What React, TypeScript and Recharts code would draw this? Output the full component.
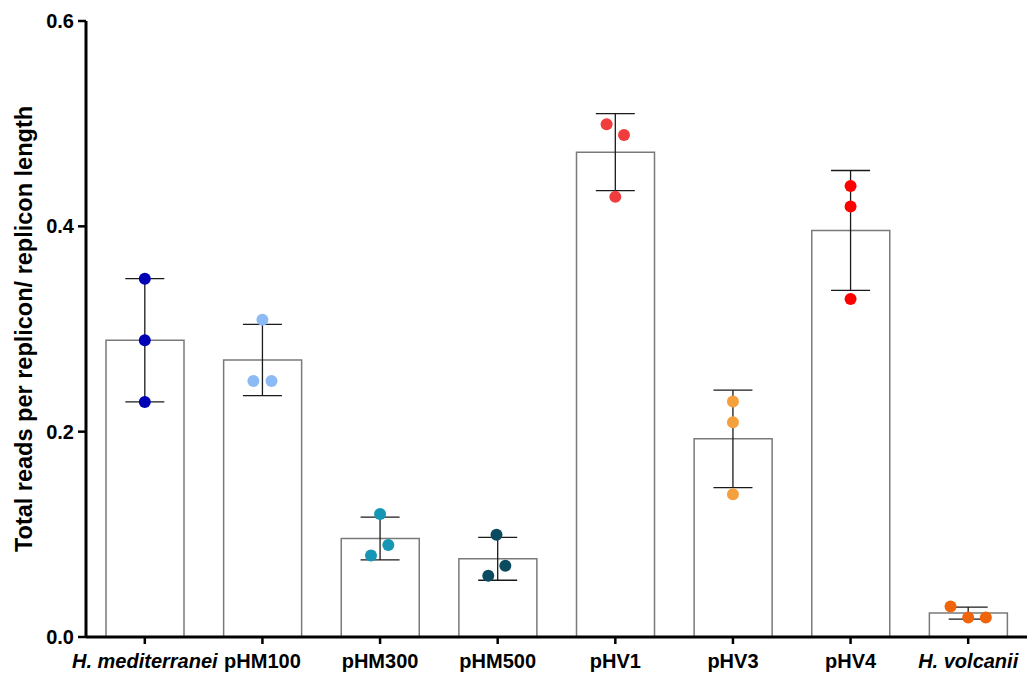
import React from 'react';
import { ComposedChart, Bar, Scatter, ErrorBar, XAxis, YAxis } from 'recharts';

const categories = ['H. mediterranei', 'pHM100', 'pHM300', 'pHM500', 'pHV1', 'pHV3', 'pHV4', 'H. volcanii'];
const italicCategories = ['H. mediterranei', 'H. volcanii'];
const means = [0.289, 0.2698, 0.0959, 0.0762, 0.4722, 0.193, 0.396, 0.0233];
const sds = [0.06, 0.0347, 0.0208, 0.0209, 0.0375, 0.0475, 0.0584, 0.0058];
const replicate1 = [0.349, 0.309, 0.1197, 0.0995, 0.4995, 0.2293, 0.4394, 0.0298];
const replicate2 = [0.289, 0.2494, 0.0895, 0.0694, 0.489, 0.2092, 0.4194, 0.0191];
const replicate3 = [0.229, 0.2494, 0.0794, 0.0596, 0.4287, 0.139, 0.3292, 0.0191];
// horizontal jitter of each replicate dot, as a fraction of the category band
const jitter1 = [0, 0, 0, -0.01, -0.074, 0, 0, -0.15];
const jitter2 = [0, -0.077, 0.07, 0.065, 0.074, 0, 0, 0];
const jitter3 = [0, 0.077, -0.077, -0.08, 0, 0, 0, 0.15];
const dotColors = ['#0000b4', '#8cbaf5', '#1496b4', '#0a4b5f', '#f03c3c', '#f5a03c', '#ff0000', '#f0640a'];
const yTicks = [0, 0.2, 0.4, 0.6];
const yLabel = 'Total reads per replicon/ replicon length';

const data = categories.map((name, i) => ({
  name,
  mean: means[i],
  sd: sds[i],
  r1: replicate1[i],
  r2: replicate2[i],
  r3: replicate3[i],
}));

const W = 1030;
const H = 674;
const MARGIN = { top: 21, right: 3, left: 0, bottom: 0 };
const Y_AXIS_W = 86;
const X_AXIS_H = 37;
const BAND = (W - MARGIN.left - MARGIN.right - Y_AXIS_W) / categories.length;
const FONT = '"Liberation Sans", Arial, Helvetica, sans-serif';

const makeDot = (jitter: number[]) => (props: any) => {
  const { cx, cy } = props;
  const name = props.payload?.name ?? props.name;
  const i = categories.indexOf(name);
  if (cx == null || cy == null || i < 0) return <g />;
  return <circle cx={cx + jitter[i] * BAND} cy={cy} r={6} fill={dotColors[i]} />;
};

const XTick = (props: any) => {
  const { x, y, payload } = props;
  const italic = italicCategories.includes(payload.value);
  return (
    <text
      x={x}
      y={y}
      dy="0.71em"
      textAnchor="middle"
      fontFamily={FONT}
      fontSize={20}
      fontWeight="bold"
      fontStyle={italic ? 'italic' : 'normal'}
      fill="#000"
    >
      {payload.value}
    </text>
  );
};

const YLabel = (props: any) => {
  const vb = props.viewBox || {};
  const cy = (vb.y ?? 21) + (vb.height ?? 616) / 2;
  return (
    <text
      x={24}
      y={cy}
      transform={`rotate(-90, 24, ${cy})`}
      textAnchor="middle"
      dominantBaseline="central"
      fontFamily={FONT}
      fontSize={23.5}
      fontWeight="bold"
      fill="#000"
    >
      {yLabel}
    </text>
  );
};

export default function App() {
  return (
    <div style={{ position: 'absolute', left: 0, top: 0, width: W, height: H, background: '#fff' }}>
      <ComposedChart width={W} height={H} data={data} margin={MARGIN}>
        <XAxis
          dataKey="name"
          type="category"
          height={X_AXIS_H}
          interval={0}
          tick={<XTick />}
          tickSize={7}
          tickMargin={10}
          axisLine={{ stroke: '#000', strokeWidth: 3 }}
          tickLine={{ stroke: '#000', strokeWidth: 2.5 }}
          allowDuplicatedCategory={false}
        />
        <YAxis
          type="number"
          width={Y_AXIS_W}
          domain={[0, 0.6]}
          ticks={yTicks}
          interval={0}
          tickFormatter={(v: number) => v.toFixed(1)}
          tickSize={8}
          tickMargin={4}
          tick={{ fontFamily: FONT, fontSize: 20, fontWeight: 'bold', fill: '#000' }}
          axisLine={{ stroke: '#000', strokeWidth: 3 }}
          tickLine={{ stroke: '#000', strokeWidth: 2.5 }}
          label={<YLabel />}
        />
        <Bar dataKey="mean" barSize={78} fill="#ffffff" stroke="#7a7a7a" strokeWidth={1.5} isAnimationActive={false} />
        <Scatter dataKey="r1" shape={makeDot(jitter1)} isAnimationActive={false} />
        <Scatter dataKey="r2" shape={makeDot(jitter2)} isAnimationActive={false} />
        <Scatter dataKey="r3" shape={makeDot(jitter3)} isAnimationActive={false} />
        <Scatter dataKey="mean" shape={() => <g />} isAnimationActive={false}>
          <ErrorBar dataKey="sd" direction="y" width={19.5} stroke="#1a1a1a" strokeWidth={1.3} />
        </Scatter>
      </ComposedChart>
    </div>
  );
}
